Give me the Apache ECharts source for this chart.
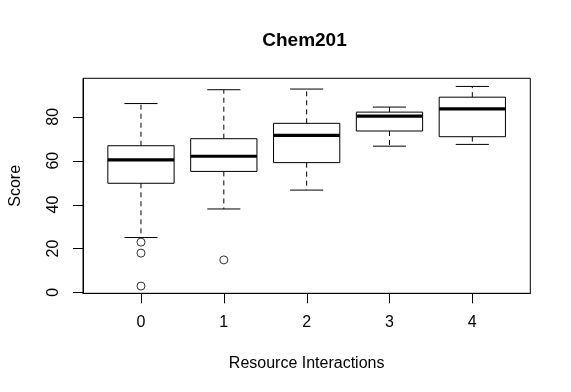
<!DOCTYPE html>
<html>
<head>
<meta charset="utf-8">
<script src="https://cdn.jsdelivr.net/npm/echarts@6/dist/echarts.min.js"></script>
<style>html,body{margin:0;padding:0;background:#fff;}#chart{width:571px;height:392px;}</style>
</head>
<body>
<div id="chart"></div>
<script>
const categories = ['0', '1', '2', '3', '4'];
const whiskerLow = [25.0, 38.0, 46.6, 66.6, 67.4];
const q1 = [49.7, 55.1, 59.1, 73.5, 70.9];
const median = [60.4, 62.0, 71.5, 80.3, 83.6];
const q3 = [66.8, 70.0, 77.0, 82.1, 88.9];
const whiskerHigh = [86.0, 92.3, 92.6, 84.4, 93.8];
const outlierGroup = [0, 0, 0, 1];
const outlierValue = [22.9, 17.9, 2.9, 14.8];
const yTicks = [0, 20, 40, 60, 80];
const xTicks = [0, 1, 2, 3, 4];
const X_MIN = -0.7, X_MAX = 4.7, Y_MIN = -0.4, Y_MAX = 97.5;

const boxData = categories.map((c, i) => [i, whiskerLow[i], q1[i], median[i], q3[i], whiskerHigh[i]]);
const outlierData = outlierGroup.map((g, i) => [g, outlierValue[i]]);

const FONT = '"Liberation Sans", Arial, Helvetica, sans-serif';
const TICK_LEN = 10;
const crisp = v => Math.round(v) + 0.5;
const chart = echarts.init(document.getElementById('chart'));
chart.setOption({
  animation: false,
  title: {
    text: 'Chem201',
    left: 304.5,
    textAlign: 'center',
    top: 31,
    padding: 0,
    textStyle: { fontFamily: FONT, fontSize: 19, fontWeight: 'bold', color: '#000' }
  },
  grid: {
    left: 78.7, right: 40.7, top: 78.3, bottom: 98.7,
    show: true, borderColor: '#000', borderWidth: 1
  },
  xAxis: {
    type: 'value', min: X_MIN, max: X_MAX,
    name: 'Resource Interactions', nameLocation: 'middle', nameGap: 62,
    nameTextStyle: { fontFamily: FONT, fontSize: 16, color: '#000' },
    splitLine: { show: false },
    axisLine: { show: true, onZero: false, lineStyle: { color: '#000' } },
    axisTick: { show: false },
    axisLabel: { customValues: xTicks, formatter: v => categories[Math.round(v)], margin: 21,
      fontFamily: FONT, fontSize: 16, color: '#000' }
  },
  yAxis: {
    type: 'value', min: Y_MIN, max: Y_MAX,
    name: 'Score', nameLocation: 'middle', nameGap: 59,
    nameTextStyle: { fontFamily: FONT, fontSize: 16, color: '#000' },
    splitLine: { show: false },
    axisLine: { show: true, onZero: false, lineStyle: { color: '#000' } },
    axisTick: { show: false },
    axisLabel: { customValues: yTicks, rotate: 90, margin: 21,
      fontFamily: FONT, fontSize: 16, color: '#000' }
  },
  series: [
    {
      type: 'custom',
      data: boxData,
      encode: { x: 0, y: [1, 2, 3, 4, 5] },
      renderItem: function (params, api) {
        const x = api.value(0);
        const lo = api.coord([x, api.value(1)]);
        const b1 = api.coord([x, api.value(2)]);
        const md = api.coord([x, api.value(3)]);
        const b3 = api.coord([x, api.value(4)]);
        const hi = api.coord([x, api.value(5)]);
        const bw = api.size([0.8, 0])[0];
        const hw = bw / 2;
        const cw = bw / 4;
        const cx = md[0];
        const solid = { stroke: '#000', lineWidth: 1, fill: null };
        const dashed = { stroke: '#000', lineWidth: 1, lineDash: [5, 4], fill: null };
        return {
          type: 'group',
          children: [
            { type: 'line', shape: { x1: cx, y1: b3[1], x2: cx, y2: hi[1] }, style: dashed },
            { type: 'line', shape: { x1: cx, y1: b1[1], x2: cx, y2: lo[1] }, style: dashed },
            { type: 'line', shape: { x1: cx - cw, y1: hi[1], x2: cx + cw, y2: hi[1] }, style: solid },
            { type: 'line', shape: { x1: cx - cw, y1: lo[1], x2: cx + cw, y2: lo[1] }, style: solid },
            { type: 'rect', shape: { x: cx - hw, y: b3[1], width: bw, height: b1[1] - b3[1] },
              style: { stroke: '#000', lineWidth: 1, fill: '#fff' } },
            { type: 'line', shape: { x1: cx - hw, y1: md[1], x2: cx + hw, y2: md[1] },
              style: { stroke: '#000', lineWidth: 3.2, fill: null } }
          ]
        };
      }
    },
    {
      type: 'scatter',
      data: outlierData,
      symbol: 'circle',
      symbolSize: 8,
      itemStyle: { color: 'rgba(255,255,255,0)', borderColor: '#000', borderWidth: 1 }
    }
  ]
});

// Tick marks placed through the chart's own axis scales.
const corner = chart.convertToPixel({ gridIndex: 0 }, [X_MIN, Y_MIN]);
const tickElements = [];
xTicks.forEach(v => {
  const p = chart.convertToPixel({ gridIndex: 0 }, [v, Y_MIN]);
  const x = crisp(p[0]);
  tickElements.push({ type: 'line', z: 100, silent: true,
    shape: { x1: x, y1: corner[1], x2: x, y2: corner[1] + TICK_LEN },
    style: { stroke: '#000', lineWidth: 1 } });
});
yTicks.forEach(v => {
  const p = chart.convertToPixel({ gridIndex: 0 }, [X_MIN, v]);
  const y = crisp(p[1]);
  tickElements.push({ type: 'line', z: 100, silent: true,
    shape: { x1: corner[0], y1: y, x2: corner[0] - TICK_LEN, y2: y },
    style: { stroke: '#000', lineWidth: 1 } });
});
chart.setOption({ graphic: { elements: tickElements } });
</script>
</body>
</html>
